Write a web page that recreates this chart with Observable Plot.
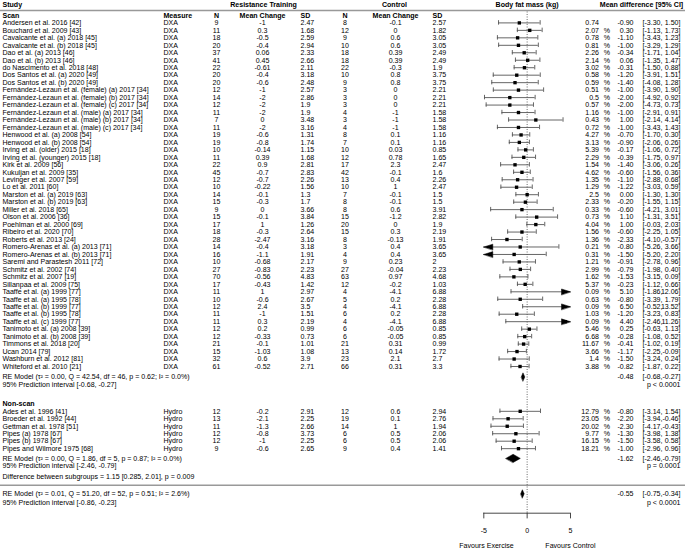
<!DOCTYPE html>
<html><head><meta charset="utf-8">
<script src="https://cdn.jsdelivr.net/npm/d3@7"></script>
<script src="https://cdn.jsdelivr.net/npm/@observablehq/plot@0.6"></script>
<style>
body{margin:0;background:#fff;}
#chart svg{display:block;}
</style>
</head><body><div id="chart"></div>
<script>
// ---------------- DATA ----------------
const scanStudies = [
"Andersen et al. 2016 [42]","Bouchard et al. 2009 [43]","Cavalcante et al. (a) 2018 [45]","Cavalcante et al. (b) 2018 [45]",
"Dao et al. (a) 2013 [46]","Dao et al. (b) 2013 [46]","do Nascimento et al. 2018 [48]","Dos Santos et al. (a) 2020 [49]",
"Dos Santos et al. (b) 2020 [49]","Fernández-Lezaun et al. (female) (a) 2017 [34]","Fernández-Lezaun et al. (female) (b) 2017 [34]",
"Fernández-Lezaun et al. (female) (c) 2017 [34]","Fernández-Lezaun et al. (male) (a) 2017 [34]","Fernández-Lezaun et al. (male) (b) 2017 [34]",
"Fernández-Lezaun et al. (male) (c) 2017 [34]","Henwood et al. (a) 2008 [54]","Henwood et al. (b) 2008 [54]","Irving et al. (older) 2015 [18]",
"Irving et al. (younger) 2015 [18]","Kirk et al. 2009 [56]","Kukuljan et al. 2009 [35]","Levinger et al. 2007 [59]","Lo et al. 2011 [60]",
"Marston et al. (a) 2019 [63]","Marston et al. (b) 2019 [63]","Miller et al. 2018 [65]","Olson et al. 2006 [36]","Poehlman et al. 2000 [69]",
"Ribeiro et al. 2020 [70]","Roberts et al. 2013 [24]","Romero-Arenas et al. (a) 2013 [71]","Romero-Arenas et al. (b) 2013 [71]",
"Saremi and Parastesh 2011 [72]","Schmitz et al. 2002 [74]","Schmitz et al. 2007 [19]","Sillanpaa et al. 2009 [75]",
"Taaffe et al. (a) 1999 [77]","Taaffe et al. (a) 1995 [78]","Taaffe et al. (b) 1999 [77]","Taaffe et al. (b) 1995 [78]",
"Taaffe et al. (c) 1999 [77]","Tanimoto et al. (a) 2008 [39]","Tanimoto et al. (b) 2008 [39]","Timmons et al. 2018 [20]",
"Ucan 2014 [79]","Washburn et al. 2012 [81]","Whiteford et al. 2010 [21]"];
const scanMeasure = "DXA";
const scanRtN = [9,11,18,20,37,41,22,20,20,12,14,12,11,7,11,19,19,10,11,22,45,12,10,14,15,9,15,17,18,28,14,16,10,27,70,17,11,10,12,11,11,12,12,21,15,32,61];
const scanRtMean = [-1,0.3,-0.5,-0.4,0.06,0.45,-0.61,-0.4,-0.6,-1,-2,-2,-2,0,-2,-0.6,-0.8,-0.14,0.39,0.9,-0.7,-0.7,-0.22,-0.1,-0.3,0,-0.1,1,-0.3,-2.47,-0.4,-1.1,-0.68,-0.83,-0.56,-0.43,1,-0.6,2.4,-1,0.3,0.2,-0.33,-0.1,-1.03,0.6,-0.52];
const scanRtSD = [2.47,1.68,2.59,2.94,2.33,2.66,2.11,3.18,2.48,2.57,2.86,1.9,1.9,3.48,3.16,1.31,1.74,1.15,1.68,2.81,2.83,2.26,1.56,1.3,1.7,3.66,3.84,1.26,2.64,3.16,3.18,1.91,2.17,2.23,4.83,1.42,2.97,2.67,3.5,1.51,2.19,0.99,0.73,1.01,1.08,3.9,2.71];
const scanCN = [8,12,9,10,18,18,22,10,9,3,3,3,4,3,4,8,7,10,12,17,42,13,10,7,8,8,15,20,15,8,3,4,9,27,63,12,4,5,4,6,4,6,6,21,13,23,66];
const scanCMean = [-0.1,0,0.6,0.6,0.39,0.39,-0.3,0.8,0.8,0,0,0,-1,-1,-1,0.1,0.1,0.03,0.78,2.3,-0.1,0.4,1,-0.1,-0.1,0.6,-1.2,0,0.3,-0.13,0.4,0.4,0.23,-0.04,0.97,-0.2,-4.1,0.2,-4.1,0.2,-4.1,-0.05,-0.05,0.31,0.14,2.1,0.31];
const scanCSD = [2.57,1.82,3.05,3.05,2.49,2.49,1.9,3.75,3.75,2.21,2.21,2.21,1.58,1.58,1.58,1.16,1.16,0.85,1.65,2.47,1.6,2.26,2.47,1.5,1.5,3.91,2.82,1.9,2.19,1.91,3.65,3.65,2,2.23,4.68,1.03,6.88,2.28,6.88,2.28,6.88,0.85,0.85,0.99,1.72,2.7,3.3];
const scanWeight = [0.74,2.07,0.78,0.81,2.26,2.14,3.02,0.58,0.59,0.51,0.5,0.57,1.16,0.43,0.72,4.27,3.13,5.39,2.29,1.54,4.62,1.35,1.29,2.5,2.33,0.33,0.73,4.04,1.56,1.36,0.21,0.31,1.21,2.99,1.62,5.37,0.09,0.63,0.09,1.03,0.09,5.46,6.68,11.67,3.66,1.4,3.88];
const scanEst = [-0.90,0.30,-1.10,-1.00,-0.34,0.06,-0.31,-1.20,-1.40,-1.00,-2.00,-2.00,-1.00,1.00,-1.00,-0.70,-0.90,-0.17,-0.39,-1.40,-0.60,-1.10,-1.22,0.00,-0.20,-0.60,1.10,1.00,-0.60,-2.33,-0.80,-1.50,-0.91,-0.79,-1.53,-0.23,5.10,-0.80,6.50,-1.20,4.40,0.25,-0.28,-0.41,-1.17,-1.50,-0.82];
const scanLo = [-3.30,-1.13,-3.43,-3.29,-1.71,-1.35,-1.50,-3.91,-4.08,-3.90,-4.92,-4.73,-2.91,-2.14,-3.43,-1.70,-2.06,-1.06,-1.75,-3.06,-1.56,-2.88,-3.03,-1.30,-1.55,-4.21,-1.31,-0.03,-2.25,-4.10,-5.26,-5.20,-2.78,-1.98,-3.15,-1.12,-1.86,-3.39,-0.52,-3.23,-2.46,-0.63,-1.08,-1.02,-2.25,-3.24,-1.87];
const scanHi = [1.50,1.73,1.23,1.29,1.04,1.47,0.88,1.51,1.28,1.90,0.92,0.73,0.91,4.14,1.43,0.30,0.26,0.72,0.97,0.26,0.36,0.68,0.59,1.30,1.15,3.01,3.51,2.03,1.05,-0.57,3.66,2.20,0.96,0.40,0.09,0.66,12.06,1.79,13.52,0.83,11.26,1.13,0.52,0.19,-0.09,0.24,0.22];

const nsStudies = ["Ades et al. 1996 [41]","Broeder et al. 1992 [44]","Gettman et al. 1978 [51]","Pipes (a) 1978 [67]","Pipes (b) 1978 [67]","Pipes and Wilmore 1975 [68]"];
const nsMeasure = "Hydro";
const nsRtN = [12,13,11,12,12,9];
const nsRtMean = [-0.2,-2.1,-1.3,-0.8,-1,-0.6];
const nsRtSD = [2.91,2.25,2.66,3.73,2.25,2.65];
const nsCN = [12,19,14,6,6,9];
const nsCMean = [0.6,0.1,1,0.5,0.5,0.4];
const nsCSD = [2.94,2.76,1.94,2.06,2.06,1.41];
const nsWeight = [12.79,23.05,20.02,9.77,16.15,18.21];
const nsEst = [-0.80,-2.20,-2.30,-1.30,-1.50,-1.00];
const nsLo = [-3.14,-3.94,-4.17,-3.98,-3.58,-2.96];
const nsHi = [1.54,-0.46,-0.43,1.38,0.58,0.96];

const summaryLabels = [
 "RE Model (\u03c4\u00b2 = 0.00, Q = 42.54, df = 46, p = 0.62; I\u00b2 = 0.0%)",
 "RE Model (\u03c4\u00b2 = 0.00, Q = 1.86, df = 5, p = 0.87; I\u00b2 = 0.0%)",
 "RE Model (\u03c4\u00b2 = 0.01, Q = 51.20, df = 52, p = 0.51; I\u00b2 = 2.6%)"];
const summaryPI = ["95% Prediction interval [-0.68, -0.27]","95% Prediction interval [-2.46, -0.79]","95% Prediction interval [-0.86, -0.23]"];
const summaryEst = [-0.48,-1.62,-0.55];
const summaryLo = [-0.68,-2.46,-0.75];
const summaryHi = [-0.27,-0.79,-0.34];
const summaryP = ["p < 0.0001","p = 0.0001","p < 0.0001"];
const diffText = "Difference between subgroups = 1.15 [0.285, 2.01], p = 0.009";
const axisTicks = [-5,0,5];
const favourLabels = ["Favours Exercise","Favours Control"];

// ---------------- LAYOUT (row units) ----------------
const ROW = {header:-2.45, sub:-1, scan0:0, nsHead:51, ns0:52,
  sumRows:[47.4,58.3,63.05], piRows:[48.45,59.35,64.25], diff:60.75,
  topLine:-1.66, sepLine:61.9, axis:65.64, tickEnd:66.4, tickLab:67.95, favour:70.05};
const FS = 7.05;
const XPX = [483.3, 570];
const unitPerPx = 10/(XPX[1]-XPX[0]);

function build(studies, measure, rtN, rtM, rtS, cN, cM, cS, w, est, lo, hi, r0, group) {
  return studies.map((s,i)=>({study:s, measure, rtN:rtN[i], rtM:rtM[i], rtS:rtS[i], cN:cN[i], cM:cM[i], cS:cS[i],
    w:w[i], est:est[i], lo:lo[i], hi:hi[i], row:r0+i, pct: !(group==="scan" && i===0)}));
}
const rows = [
  ...build(scanStudies, scanMeasure, scanRtN, scanRtMean, scanRtSD, scanCN, scanCMean, scanCSD, scanWeight, scanEst, scanLo, scanHi, ROW.scan0, "scan"),
  ...build(nsStudies, nsMeasure, nsRtN, nsRtMean, nsRtSD, nsCN, nsCMean, nsCSD, nsWeight, nsEst, nsLo, nsHi, ROW.ns0, "ns")
];
const sums = summaryLabels.map((l,i)=>({label:l, pi:summaryPI[i], est:summaryEst[i], lo:summaryLo[i], hi:summaryHi[i], p:summaryP[i], row:ROW.sumRows[i], prow:ROW.piRows[i]}));

const f2 = v => v.toFixed(2);
const diamonds = sums.flatMap((d,i)=>[
  {id:i,x:d.lo,y:d.row},{id:i,x:d.est,y:d.row-0.55},{id:i,x:d.hi,y:d.row},{id:i,x:d.est,y:d.row+0.55}]);
const arrowLen = 9*unitPerPx, arrowHalf = 0.38;
const arrows = [];
rows.forEach((d,i)=>{
  if (d.hi > 5) arrows.push({id:"r"+i,x:5,y:d.row},{id:"r"+i,x:5-arrowLen,y:d.row-arrowHalf},{id:"r"+i,x:5-arrowLen,y:d.row+arrowHalf});
  if (d.lo < -5) arrows.push({id:"l"+i,x:-5,y:d.row},{id:"l"+i,x:-5+arrowLen,y:d.row-arrowHalf},{id:"l"+i,x:-5+arrowLen,y:d.row+arrowHalf});
});

const T = (data, opts) => Plot.text(data, {frameAnchor:"left", fontSize:FS, fill:"black", ...opts});
const colText = (text, px, anchor="start", extra={}) => T(rows, {y:"row", text, dx:px, textAnchor:anchor, ...extra});

const headerCols = [
  {t:"Study",px:2,a:"start",row:ROW.header},
  {t:"Resistance Training",px:263,a:"middle",row:ROW.header},
  {t:"Control",px:394,a:"middle",row:ROW.header},
  {t:"Body fat mass (kg)",px:526.6,a:"middle",row:ROW.header},
  {t:"Mean difference [95% CI]",px:641,a:"middle",row:ROW.header},
  {t:"Scan",px:2,a:"start",row:ROW.sub},
  {t:"Measure",px:163,a:"start",row:ROW.sub},
  {t:"N",px:216,a:"middle",row:ROW.sub},
  {t:"Mean Change",px:262,a:"middle",row:ROW.sub},
  {t:"SD",px:300,a:"start",row:ROW.sub},
  {t:"N",px:344.5,a:"middle",row:ROW.sub},
  {t:"Mean Change",px:395,a:"middle",row:ROW.sub},
  {t:"SD",px:432,a:"start",row:ROW.sub},
  {t:"Non-scan",px:2,a:"start",row:ROW.nsHead}
];

const chart = Plot.plot({
  width:685, height:549, margin:0,
  style:{fontFamily:"'Liberation Sans', Arial, Helvetica, sans-serif", background:"white", color:"black"},
  x:{domain:[-5,5], range:XPX, axis:null},
  y:{domain:[0,46], range:[22.4,366], axis:null},
  marks:[
    Plot.ruleY([ROW.topLine, ROW.sepLine], {stroke:"#999", strokeWidth:1.6}),
    Plot.ruleX([0], {y1:ROW.topLine+0.2, y2:ROW.axis, stroke:"#444", strokeWidth:0.8, strokeDasharray:"1,1.5"}),
    // CI lines
    Plot.ruleY(rows, {y:"row", x1:d=>Math.max(d.lo,-5), x2:d=>Math.min(d.hi,5), stroke:"#555", strokeWidth:0.9}),
    Plot.ruleX(rows.filter(d=>d.lo>=-5), {x:"lo", y1:d=>d.row-0.3, y2:d=>d.row+0.3, stroke:"#555", strokeWidth:0.9}),
    Plot.ruleX(rows.filter(d=>d.hi<=5), {x:"hi", y1:d=>d.row-0.3, y2:d=>d.row+0.3, stroke:"#555", strokeWidth:0.9}),
    Plot.line(arrows, {x:"x", y:"y", z:"id", curve:"linear-closed", fill:"black", stroke:"black", strokeWidth:0.5}),
    Plot.dot(rows.filter(d=>d.est>=-5 && d.est<=5), {x:"est", y:"row", symbol:"square", r:1.9, fill:"black", stroke:"none"}),
    Plot.line(diamonds, {x:"x", y:"y", z:"id", curve:"linear-closed", fill:"black", stroke:"black", strokeWidth:0.5}),
    // axis
    Plot.ruleY([ROW.axis], {x1:axisTicks[0], x2:axisTicks[axisTicks.length-1], stroke:"#333", strokeWidth:0.9}),
    Plot.ruleX(axisTicks, {y1:ROW.axis, y2:ROW.tickEnd, stroke:"#333", strokeWidth:0.9}),
    Plot.text(axisTicks, {x:d=>d, y:ROW.tickLab, text:d=>String(d), fontSize:FS, fill:"black"}),
    Plot.text([favourLabels[0]], {x:-1.55, y:ROW.favour, text:d=>d, textAnchor:"end", fontSize:FS, fill:"black"}),
    Plot.text([favourLabels[1]], {x:2.1, y:ROW.favour, text:d=>d, textAnchor:"start", fontSize:FS, fill:"black"}),
    // headers
    ...headerCols.map(h=>T([h], {y:"row", text:"t", dx:h.px, textAnchor:h.a, fontWeight:"bold"})),
    // columns
    colText("study", 2),
    colText("measure", 163),
    colText(d=>String(d.rtN), 216, "middle"),
    colText(d=>String(d.rtM), 262, "middle"),
    colText(d=>String(d.rtS), 300),
    colText(d=>String(d.cN), 344.5, "middle"),
    colText(d=>String(d.cM), 395, "middle"),
    colText(d=>String(d.cS), 432),
    colText(d=>String(d.w), 598.5, "end"),
    T(rows.filter(d=>d.pct), {y:"row", text:()=>"%", dx:603.3, textAnchor:"start"}),
    colText(d=>f2(d.est), 633, "end"),
    colText(d=>"["+f2(d.lo)+",", 662, "end"),
    colText(d=>f2(d.hi)+"]", 680, "end"),
    // summaries
    T(sums, {y:"row", text:"label", dx:2}),
    T(sums, {y:"prow", text:"pi", dx:2}),
    T(sums, {y:"row", text:d=>f2(d.est), dx:633, textAnchor:"end"}),
    T(sums, {y:"row", text:d=>"["+f2(d.lo)+",", dx:662, textAnchor:"end"}),
    T(sums, {y:"row", text:d=>f2(d.hi)+"]", dx:680, textAnchor:"end"}),
    T(sums, {y:"prow", text:"p", dx:680, textAnchor:"end"}),
    T([diffText], {y:ROW.diff, text:d=>d, dx:2})
  ]
});
document.getElementById("chart").appendChild(chart);
</script>
</body></html>
